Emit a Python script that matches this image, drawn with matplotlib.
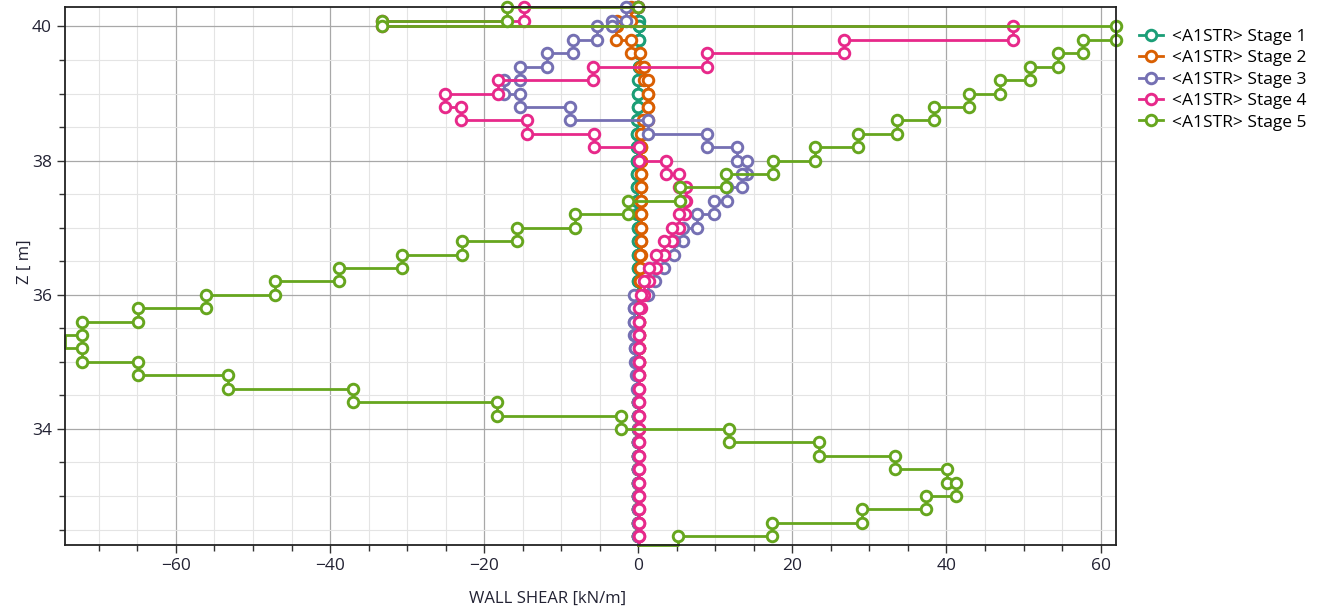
import matplotlib
matplotlib.use("Agg")
import matplotlib.pyplot as plt
from matplotlib.ticker import MultipleLocator

plt.rcParams['font.family'] = ['Open Sans', 'DejaVu Sans']

# Node elevations (top to bottom) [m]
Z_NODES = [40.29, 40.075, 40.0, 39.8, 39.6, 39.4, 39.2, 39.0, 38.8, 38.6, 38.4,
           38.2, 38.0, 37.8, 37.6, 37.4, 37.2, 37.0, 36.8, 36.6, 36.4, 36.2,
           36.0, 35.8, 35.6, 35.4, 35.2, 35.0, 34.8, 34.6, 34.4, 34.2, 34.0,
           33.8, 33.6, 33.4, 33.2, 33.0, 32.8, 32.6, 32.4, 32.27]

# Wall shear per element [kN/m], element i spans Z_NODES[i]..Z_NODES[i+1]
stage1 = [0.0, 0.1, 0.1, 0.1, 0.1, 0.1, 0.0, 0.0, -0.1, -0.2, -0.2, -0.2, -0.2,
          -0.2, -0.2, -0.2, -0.1, -0.1, -0.1, -0.1, -0.1, 0.0, 0.0, 0.0, 0.0,
          0.0, 0.0, 0.0, 0.0, 0.0, 0.0, 0.0, 0.0, 0.0, 0.0, 0.0, 0.0, 0.0, 0.0,
          0.0, 0.0]
stage2 = [-1.0, -2.7, -2.9, -1.0, 0.2, 0.8, 1.3, 1.3, 1.2, 0.6, 0.4,
          0.3, 0.3, 0.3, 0.3, 0.3, 0.3, 0.3, 0.3, 0.2, 0.2, 0.2,
          0.1, 0.1, 0.1, 0.1, 0.1, 0.1, 0.0, 0.0, 0.0, 0.0, 0.0, 0.0, 0.0,
          0.0, 0.0, 0.0, 0.0, 0.0, 0.0]
stage3 = [-1.6, -3.4, -5.3, -8.5, -11.8, -15.4, -17.4, -15.4, -8.8, 1.2, 8.9,
          12.8, 14.1, 13.5, 11.5, 9.8, 7.6, 5.8, 4.6, 3.3, 2.2, 1.2, -0.5,
          -0.5, -0.5, -0.4, -0.4, -0.3, -0.2, 0.0, 0.0, 0.0, 0.0, 0.0, 0.0,
          0.0, 0.0, 0.0, 0.0, 0.0, 0.0]
stage4 = [-14.8, -33.3, 48.6, 26.7, 8.9, -5.9, -18.2, -25.1, -23.0, -14.4, -5.8,
          0.1, 3.6, 5.3, 6.2, 6.0, 5.3, 4.4, 3.3, 2.3, 1.4, 0.8, 0.3,
          0.1, 0.1, 0.1, 0.1, 0.1, 0.1, 0.1, 0.1, 0.1, 0.1, 0.1, 0.1, 0.1,
          0.1, 0.1, 0.1, 0.1, 0.1]
stage5 = [-17.0, -33.3, 62.0, 57.7, 54.5, 50.8, 46.9, 42.9, 38.4, 33.6, 28.5,
          23.0, 17.5, 11.4, 5.4, -1.3, -8.2, -15.7, -22.9, -30.7, -38.8, -47.2,
          -56.1, -64.9, -72.2, -74.4, -72.2, -64.9, -53.3, -37.0, -18.3, -2.2,
          11.8, 23.4, 33.3, 40.1, 41.2, 37.3, 29.0, 17.3, 5.2]

labels = ["<A1STR> Stage 1", "<A1STR> Stage 2", "<A1STR> Stage 3",
          "<A1STR> Stage 4", "<A1STR> Stage 5"]
colors = ["#1b9e77", "#d95f02", "#7570b3", "#e7298a", "#66a61e"]
series = [stage1, stage2, stage3, stage4, stage5]

for s in series:
    assert len(s) == len(Z_NODES) - 1

all_vals = [v for s in series for v in s]
xmin, xmax = min(all_vals), max(all_vals)
zmin, zmax = Z_NODES[-1], Z_NODES[0]

fig = plt.figure(figsize=(13.37, 6.14), dpi=100)
ax = fig.add_axes([65 / 1337, 1 - 545 / 614, (1116 - 65) / 1337, (545 - 7) / 614])

for vals, col, lab in zip(series, colors, labels):
    xs = [0.0]
    zs = [Z_NODES[0]]
    for i, v in enumerate(vals):
        xs += [v, v]
        zs += [Z_NODES[i], Z_NODES[i + 1]]
    xs.append(0.0)
    zs.append(Z_NODES[-1])
    mask = [(x > xmin) and (z > zmin) for x, z in zip(xs, zs)]
    ax.plot(xs, zs, color=col, lw=2.0, marker='o', ms=7.6, mew=2.1,
            mfc='white', mec=col, markevery=mask, label=lab, clip_on=False)

ax.set_xlim(xmin, xmax)
ax.set_ylim(zmin, zmax)
ax.xaxis.set_major_locator(MultipleLocator(20))
ax.xaxis.set_minor_locator(MultipleLocator(5))
ax.yaxis.set_major_locator(MultipleLocator(2))
ax.yaxis.set_minor_locator(MultipleLocator(0.5))
ax.grid(True, which='major', color='#a8a8a8', lw=0.9)
ax.grid(True, which='minor', color='#e4e4e4', lw=0.8)
ax.set_axisbelow(True)
for sp in ax.spines.values():
    sp.set_color('#222222')
    sp.set_linewidth(1.3)
ax.tick_params(which='major', direction='out', length=6, width=1, colors='#333333',
               labelsize=12.5, labelcolor='#222233')
ax.tick_params(which='minor', direction='out', length=4, width=1, colors='#333333')

ax.set_xlabel("WALL SHEAR [kN/m]", fontsize=12, color='#222233')
ax.xaxis.set_label_coords((548 - 65) / (1116 - 65), -0.085)
ax.set_ylabel("Z [ m]", fontsize=12, color='#222233')
ax.yaxis.set_label_coords(-0.031, (545 - 262) / 538)

fig.legend(loc='upper left', bbox_to_anchor=(1132 / 1337, 1 - 22 / 614),
           frameon=False, fontsize=12.5, handlelength=1.4, handletextpad=0.5,
           labelspacing=0.3, borderaxespad=0)

fig.savefig("out.png", dpi=100)
